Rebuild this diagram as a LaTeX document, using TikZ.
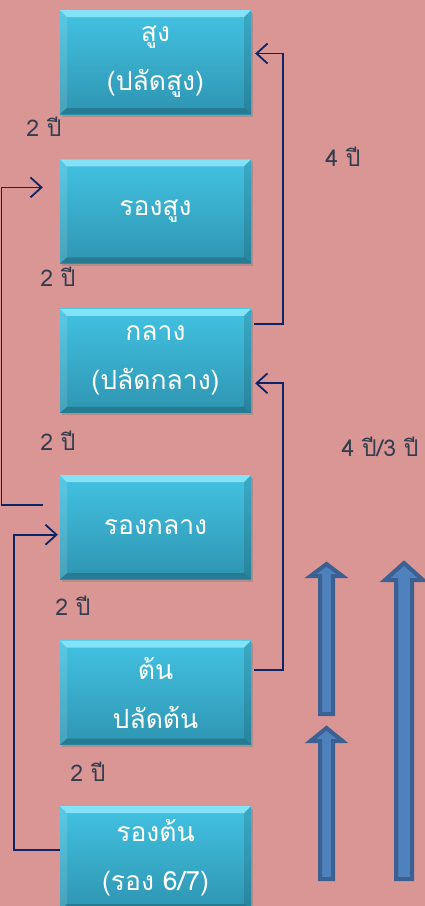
\documentclass[tikz,border=0pt]{standalone}
\usepackage{fontspec}
\newfontfamily\thaifont[Script=Thai]{Loma}
\usetikzlibrary{positioning}
\usetikzlibrary{shadows}
\usetikzlibrary{arrows.meta}

\definecolor{bgpink}{HTML}{D99694}
\definecolor{boxtop}{HTML}{43C2E2}
\definecolor{boxbot}{HTML}{2E95B2}
\definecolor{bevelhi}{HTML}{84E2F6}
\definecolor{bevello}{HTML}{267A92}
\definecolor{navy}{HTML}{0B2566}
\definecolor{lbltext}{HTML}{333D4D}
\definecolor{blkfill}{HTML}{4F81BD}
\definecolor{blkedge}{HTML}{3A6191}

\newcommand{\blockup}[6]{% x, tip, head base, bottom, head half, shaft half
  \draw[blockarrow] (#1,#2) -- (#1+#5,#3) -- (#1+#6,#3) -- (#1+#6,#4)
    -- (#1-#6,#4) -- (#1-#6,#3) -- (#1-#5,#3) -- cycle;}

\begin{document}
\begin{tikzpicture}[x=1pt,y=-1pt,
    levelnode/.style={rectangle, minimum width=191pt, minimum height=104pt, inner sep=0pt,
      top color=boxtop, bottom color=boxbot, text=white, align=center,
      font=\thaifont\fontsize{26.5}{49}\selectfont,
      drop shadow={shadow xshift=1.5pt, shadow yshift=-2.5pt, opacity=0.45},
      path picture={
        \fill[bevelhi] (path picture bounding box.north west) -- (path picture bounding box.north east)
          -- ([xshift=-7pt,yshift=-7pt]path picture bounding box.north east)
          -- ([xshift=7pt,yshift=-7pt]path picture bounding box.north west) -- cycle;
        \fill[bevello] (path picture bounding box.south west) -- (path picture bounding box.south east)
          -- ([xshift=-7pt,yshift=6pt]path picture bounding box.south east)
          -- ([xshift=7pt,yshift=6pt]path picture bounding box.south west) -- cycle;
        \fill[white, opacity=0.12] (path picture bounding box.north west)
          -- ([xshift=7pt,yshift=-7pt]path picture bounding box.north west)
          -- ([xshift=7pt,yshift=6pt]path picture bounding box.south west)
          -- (path picture bounding box.south west) -- cycle;
        \fill[black, opacity=0.12] (path picture bounding box.north east)
          -- ([xshift=-7pt,yshift=-7pt]path picture bounding box.north east)
          -- ([xshift=-7pt,yshift=6pt]path picture bounding box.south east)
          -- (path picture bounding box.south east) -- cycle;
      }},
    yearlabel/.style={text=lbltext, inner sep=1pt, font=\thaifont\fontsize{23}{25}\selectfont},
    link/.style={draw=navy, line width=1.8pt, -{Straight Barb[length=11pt,width=20pt,line width=1.8pt]}},
    blockarrow/.style={fill=blkfill, draw=blkedge, line width=4pt, line join=miter},
  ]
  \useasboundingbox[fill=bgpink] (0,0) rectangle (425,906);

  %Nodes
  \node[levelnode] (sung)      at (155.5,62)          {สูง\\(ปลัดสูง)};
  \node[levelnode] (rongsung)  [below=45pt of sung]     {รองสูง};
  \node[levelnode] (klang)     [below=45pt of rongsung] {กลาง\\(ปลัดกลาง)};
  \node[levelnode] (rongklang) [below=62pt of klang]    {รองกลาง};
  \node[levelnode] (ton)       [below=61pt of rongklang] {ต้น\\ปลัดต้น};
  \node[levelnode] (rongton)   [below=61pt of ton]      {รองต้น\\(รอง 6/7)};

  %Labels
  \node[yearlabel] (y1) at (44,127) {2 ปี};
  \node[yearlabel] (y2) at (58,277) {2 ปี};
  \node[yearlabel] (y3) at (58,441) {2 ปี};
  \node[yearlabel] (y4) at (73,606) {2 ปี};
  \node[yearlabel] (y5) at (88,772) {2 ปี};
  \node[yearlabel] (y6) at (343,157) {4 ปี};
  \node[yearlabel] (y7) at (380,447) {4 ปี/3 ปี};

  %Lines
  \draw[link] ([xshift=3pt,yshift=37pt]klang.east) -| (283,150) |- ([xshift=4pt,yshift=8.5pt]sung.east);
  \draw[link] ([xshift=3pt,yshift=22.5pt]ton.east) -| (283,500) |- ([xshift=4pt,yshift=-22.5pt]klang.east);
  \draw[link] ([xshift=-17pt,yshift=22.5pt]rongklang.west) -| (1.5,300) |- ([xshift=-17pt,yshift=24pt]rongsung.west);
  \draw[link] ([yshift=8pt]rongton.west) -| (14,700) |- ([xshift=-2pt,yshift=-7.5pt]rongklang.west);

  %Block arrows
  \blockup{326.5}{564}{576}{714}{16}{6.5}
  \blockup{326.5}{728}{741}{879}{16}{6.5}
  \blockup{404}{563}{580}{879}{19}{8}
\end{tikzpicture}
\end{document}
